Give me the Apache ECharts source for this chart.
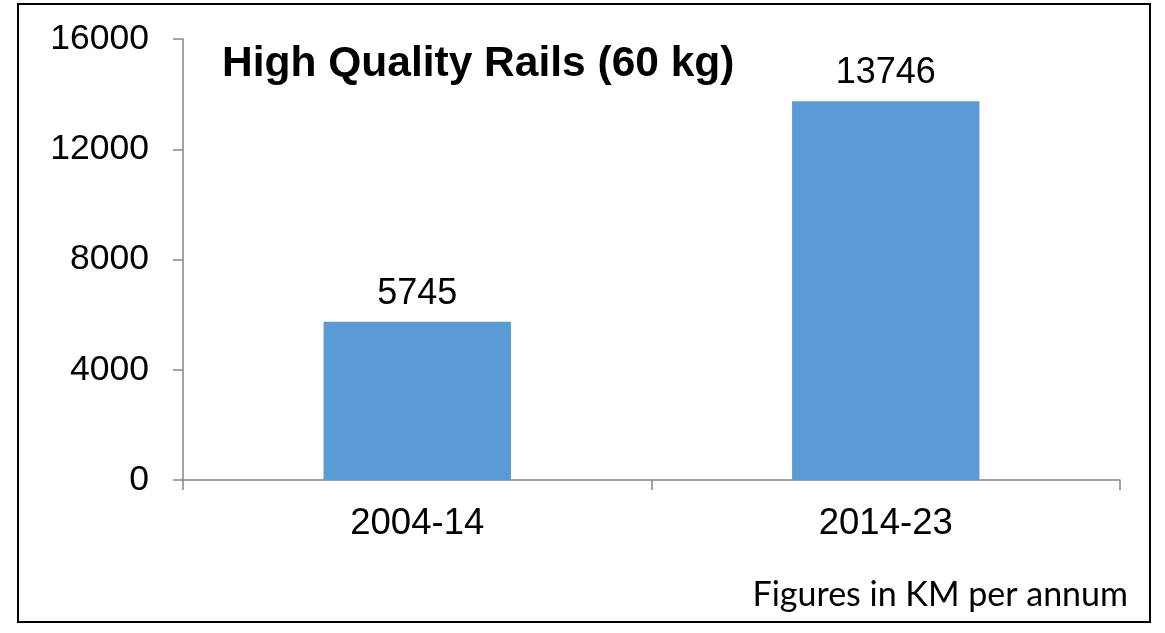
<!DOCTYPE html>
<html>
<head>
<meta charset="utf-8">
<script src="https://cdn.jsdelivr.net/npm/echarts@6/dist/echarts.min.js"></script>
<style>
  html, body { margin: 0; padding: 0; background: #fff; }
  #chart { width: 1165px; height: 633px; }
</style>
</head>
<body>
<div id="chart"></div>
<script>
const periods = ['2004-14', '2014-23'];
const railsKm = [5745, 13746];
const yTicks = [0, 4000, 8000, 12000, 16000];

const chart = echarts.init(document.getElementById('chart'));
chart.setOption({
  animation: false,
  title: {
    text: 'High Quality Rails (60 kg)',
    left: 217,
    top: 38,
    textStyle: {
      fontFamily: 'Liberation Sans',
      fontWeight: 'bold',
      fontSize: 42.5,
      color: '#000'
    }
  },
  graphic: [
    {
      type: 'rect',
      shape: { x: 18, y: 4, width: 1132, height: 618 },
      style: { fill: 'none', stroke: '#000', lineWidth: 2 },
      z: 10
    },
    {
      type: 'text',
      right: 37,
      top: 578,
      style: {
        text: 'Figures in KM per annum',
        font: '34px Lato, "Open Sans", sans-serif',
        fill: '#000'
      }
    }
  ],
  grid: { left: 183, right: 45, top: 39, bottom: 153 },
  xAxis: {
    type: 'category',
    data: periods,
    axisLine: { lineStyle: { color: '#868686', width: 1.5 } },
    axisTick: { show: true, length: 10, lineStyle: { color: '#868686', width: 1.5 } },
    axisLabel: { margin: 25, fontFamily: 'Liberation Sans', fontSize: 36.5, color: '#000' }
  },
  yAxis: {
    type: 'value',
    min: yTicks[0],
    max: yTicks[yTicks.length - 1],
    interval: 4000,
    splitLine: { show: false },
    axisLine: { show: true, lineStyle: { color: '#868686', width: 1.5 } },
    axisTick: { show: true, length: 10, lineStyle: { color: '#868686', width: 1.5 } },
    axisLabel: {
      margin: 34,
      formatter: v => String(v),
      fontFamily: 'Liberation Sans',
      fontSize: 35.5,
      color: '#000'
    }
  },
  series: [
    {
      type: 'bar',
      data: railsKm,
      barWidth: '40%',
      itemStyle: { color: '#5B9BD5' },
      label: {
        show: true,
        position: 'top',
        distance: 10,
        fontFamily: 'Liberation Sans',
        fontSize: 36,
        color: '#000'
      }
    }
  ]
});
</script>
</body>
</html>
